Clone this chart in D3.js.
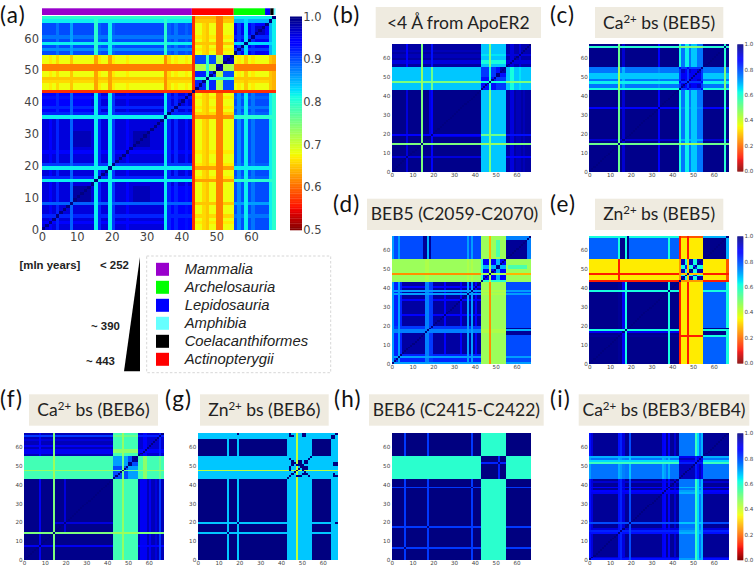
<!DOCTYPE html>
<html><head><meta charset="utf-8">
<script src="https://cdn.jsdelivr.net/npm/d3@7/dist/d3.min.js"></script>
<style>html,body{margin:0;padding:0;background:#fff}svg{display:block}</style>
</head><body><svg id="c" width="756" height="567"></svg>
<script>
// ---- data ----
const residueCount = 67;
const groupEdges = [43, 55];
const tickVals = [0, 10, 20, 30, 40, 50, 60];

const taxonBarEdges = [0, 43, 55, 64, 65.5, 66.5, 67];
const taxonBarColors = ["#9900cc", "#ff0000", "#00ff00", "#0000ff", "#000000", "#66ffff"];
const legendNames = ["Mammalia", "Archelosauria", "Lepidosauria", "Amphibia", "Coelacanthiformes", "Actinopterygii"];
const legendColors = ["#9900cc", "#00ff00", "#0000ff", "#66ffff", "#000000", "#ff0000"];
const ageLabels = ["< 252", "~ 390", "~ 443"];

// jet colour map knots
const jetR = [[0, .35, .66, .89, 1], [0, 0, 1, 1, .5]];
const jetG = [[0, .125, .375, .64, .91, 1], [0, 0, 1, 1, 0, 0]];
const jetB = [[0, .11, .34, .65, 1], [.5, 1, 1, 0, 0]];

// each panel: base [[MM,MF,MA],[FM,-,FA],[AM,AF,AA]], stripes [from,to,vM,vF,vA],
// patches [x0,x1,y0,y1,v], inner classes of residues 43..54, inner class-by-class values
const aBase = [[.96,.68,.9],[.68,.7,.68],[.9,.68,.94]];
const aStripes = [[4,5,.92,.66,.88],[8,9,.89,.65,.86],[15,16,.82,.63,.8],[16,17,.92,.67,.89],[19,20,.82,.63,.82],[20,21,.91,.67,.89],
 [35,36,.82,.62,.8],[36,37,.92,.66,.89],[38,39,.92,.67,.88],[41,42,.93,.67,.89],[2,3,.94,.67,.9],[24,25,.94,.67,.9],
 [43,44,.57,.57,.57],[47,48,.65,.8,.65],[50,52,.61,1,.61],[46,47,.66,1,.66],
 [56,57,.87,.67,.91],[58,59,.82,.65,.83],[60,61,.88,.67,.92],[65,66,.82,.65,.85],[66,67,.8,.64,.82]];
const aPatches = [[9,14,9,14,.985],[26,31,26,31,.98],[9,14,26,31,.975],[0,14,37,43,.94],[55,64,55,64,.95],[61,64,61,64,.97]];
const aClass = [3,0,0,0,1,0,0,2,2,4,4,4];
const aInner = [[.92,.8,.72,.6,.9],[.8,1,.8,.6,.8],[.72,.8,.98,.6,.72],[.6,.6,.6,1,.6],[.9,.8,.72,.6,.97]];

const bBase = [[.99,.68,.97],[.68,.8,.68],[.97,.68,.96]];
const bStripes = [[14,15,.5,.47,.5],[19,20,.88,.52,.86],[7,8,.92,.68,.88],[47,48,.5,.62,.5],[57,59,.92,.62,.92],[61,62,.95,.65,.92]];
const bPatches = [[0,43,57,58,.95],[0,43,60,61,.95],[0,43,63,64,.95],[20,43,18,20,.92]];
const bClass = [0,0,0,0,1,0,0,2,2,3,3,3];
const bInner = [[.86,.65,.82,.82],[.65,1,.65,.65],[.82,.65,1,.86],[.82,.65,.86,.97]];

const cBase = [[.99,.76,.99],[.76,.9,.76],[.99,.76,.99]];
const cStripes = [[14,15,.52,.46,.52],[33,34,.88,.74,.88],[16,17,.93,.7,.93],[65,66,.6,.5,.6],[43,44,.62,.88,.62],[46,48,.64,.88,.64],[49,52,.68,.9,.68]];
const cPatches = [[44,52,33,34,.86]];
const cClass = [1,0,0,0,1,0,0,0,0,0,0,1];
const cInner = [[.94,.82],[.82,.9]];

const dBase = [[.97,.46,.8],[.46,.8,.46],[.8,.46,.98]];
const dStripes = [[0,5,.84,.46,.8],[0,1,.72,.46,.72],[3,4,.72,.46,.72],[16,17,.75,.44,.7],[17,18,.75,.44,.7],[18,20,.82,.46,.8],[25,26,.88,.46,.8],
 [33,34,.88,.46,.8],[36,37,.72,.44,.72],[38,39,.72,.44,.72],[40,41,.88,.46,.8],[47,48,.24,.46,.28],[43,44,.6,.7,.6],[65,67,.8,.46,.75]];
const dPatches = [[15,16,55,67,.98],[18,19,55,67,.98],[50,52,18,19,.55],[50,52,38,39,.55],[56,65,50,52,.56],[50,52,57,63,.56],[55,67,16,17,.98]];
const dClass = [3,0,0,0,1,0,0,2,2,0,0,0];
const dInner = [[.88,.45,.7,.6],[.45,1,.45,.45],[.7,.45,.98,.6],[.6,.45,.6,.9]];

const eBase = [[.99,.34,.78],[.34,.9,.34],[.78,.34,.99]];
const eStripes = [[14,15,.98,.12,.62],[17,18,.62,.34,.62],[38,39,.62,.34,.62],[16,17,.9,.34,.78],[43,44,.12,.25,.12],[47,48,.12,.3,.12],[66,67,.62,.18,.7]];
const ePatches = [[15,17,55,66,.99],[18,19,55,66,.99],[55,67,18,19,.99]];
const eClass = [2,0,0,1,1,0,0,1,1,0,0,0];
const eInner = [[.95,.62,.5],[.62,.85,.5],[.5,.5,.8]];

const fBase = [[.99,.57,.95],[.57,.8,.57],[.95,.57,.93]];
const fStripes = [[14,15,.5,.46,.5],[7,8,.9,.57,.88],[47,48,.47,.52,.47],[57,59,.9,.48,.88],[65,66,.82,.52,.85]];
const fPatches = [[0,43,56,57,.9],[0,43,58,59,.92],[0,43,60,61,.9],[15,43,19,20,.92],[0,43,63,64,.92]];
const fClass = [0,0,0,0,1,0,0,2,2,3,3,3];
const fInner = [[.8,.6,.72,.72],[.6,1,.6,.6],[.72,.6,1,.8],[.72,.6,.8,.98]];

const gBase = [[1,.68,1],[.68,.68,.68],[1,.68,1]];
const gStripes = [[14,15,.68,.68,.68],[19,20,.68,.68,.68],[47,48,.42,.42,.42]];
const gPatches = [[0,67,64,67,.68],[19,20,66,67,1],[45,46,65,66,1],[50,52,65,66,1],[64,66,64,66,1],[65,67,50,52,1],[65,67,44,45,1],
 [44,45,53,54,1],[45,46,52,53,1],[46,47,51,52,1],[47,48,50,51,1],[48,50,51,53,1],[50,52,48,50,1],[47,50,44,45,1],[50,53,45,46,1],[51,52,51,53,1]];
const gClass = [0,0,0,0,0,0,0,0,0,0,0,0];
const gInner = [[.68]];

const hBase = [[1,.6,1],[.6,.97,.6],[1,.6,1]];
const hStripes = [[6,7,.82,.74,.82],[17,18,.82,.74,.82],[38,39,.82,.74,.82]];
const hPatches = [];
const hClass = [0,0,0,0,0,0,0,0,1,0,0,0];
const hInner = [[1,.84],[.84,1]];

const iBase = [[.98,.76,.98],[.76,.94,.76],[.98,.76,.98]];
const iStripes = [[0,1,.86,.72,.86],[1,2,.92,.76,.92],[14,15,.86,.7,.86],[15,16,.84,.72,.84],[16,17,.92,.75,.92],[19,20,.8,.68,.8],
 [35,36,.9,.7,.9],[36,37,.88,.72,.88],[38,39,.88,.7,.88],[41,42,.93,.76,.93],[51,52,.58,.9,.58],[52,53,.66,.9,.66],[54,55,.7,.9,.7]];
const iPatches = [];
const iClass = [0,0,0,0,0,0,0,0,1,0,0,0];
const iInner = [[.95,.85],[.85,1]];

const panelNames = ["a","b","c","d","e","f","g","h","i"];
const boxes = { // plot rectangles in the page
 a:[42,275.5,16,230], b:[391.7,531,44.3,171.3], c:[589.3,728.3,44.3,171.3], d:[391.7,531,236.3,363.3], e:[589.3,728.3,236.3,363.3],
 f:[24,163.3,433.3,560], g:[197.7,337.3,433.3,560], h:[391.7,531,433.3,560], i:[589.3,728.3,433.3,560]};
const panelData = {
 a:[aBase,aStripes,aPatches,aClass,aInner,.5], b:[bBase,bStripes,bPatches,bClass,bInner,0], c:[cBase,cStripes,cPatches,cClass,cInner,0],
 d:[dBase,dStripes,dPatches,dClass,dInner,0], e:[eBase,eStripes,ePatches,eClass,eInner,0], f:[fBase,fStripes,fPatches,fClass,fInner,0],
 g:[gBase,gStripes,gPatches,gClass,gInner,0], h:[hBase,hStripes,hPatches,hClass,hInner,0], i:[iBase,iStripes,iPatches,iClass,iInner,0]};
const colorbars = [
 {x0:290,x1:302,y0:16.5,y1:230,lo:.5,ticks:[.5,.6,.7,.8,.9,1],fs:11.5},
 {x0:737.3,x1:743.3,y0:44.3,y1:171.3,lo:0,ticks:[0,.2,.4,.6,.8,1],fs:5.6},
 {x0:737.3,x1:743.3,y0:236.3,y1:363.3,lo:0,ticks:[0,.2,.4,.6,.8,1],fs:5.6},
 {x0:737.3,x1:743.3,y0:433.3,y1:560,lo:0,ticks:[0,.2,.4,.6,.8,1],fs:5.6}];
const titleBoxes = [
 {x0:375.7,x1:541,y0:7,y1:38,t:["<4 Å from ApoER2"]},
 {x0:595,x1:723.3,y0:7,y1:38,t:["Ca","2+"," bs (BEB5)"]},
 {x0:367,x1:542,y0:198.7,y1:230,t:["BEB5 (C2059-C2070)"]},
 {x0:595,x1:723.3,y0:198.7,y1:230,t:["Zn","2+"," bs (BEB5)"]},
 {x0:29,x1:158,y0:394.3,y1:425.7,t:["Ca","2+"," bs (BEB6)"]},
 {x0:200,x1:328.7,y0:394.3,y1:425.7,t:["Zn","2+"," bs (BEB6)"]},
 {x0:369,x1:543.7,y0:394.3,y1:425.7,t:["BEB6 (C2415-C2422)"]},
 {x0:578.7,x1:749.3,y0:394.3,y1:425.7,t:["Ca","2+"," bs (BEB3/BEB4)"]}];
const panelLetters = [["(a)",0,22.5],["(b)",333,22.5],["(c)",550,22.5],["(d)",333,212],["(e)",550,212],["(f)",0,407],["(g)",165,407],["(h)",334,407],["(i)",550,407]];

// ---- drawing ----
const svg = d3.select("#c");
const sR = d3.scaleLinear().domain(jetR[0]).range(jetR[1]);
const sG = d3.scaleLinear().domain(jetG[0]).range(jetG[1]);
const sB = d3.scaleLinear().domain(jetB[0]).range(jetB[1]);
const jet = t => d3.rgb(sR(t)*255, sG(t)*255, sB(t)*255).formatHex();
const colorOf = lo => { const s = d3.scaleLinear().domain([lo,1]).range([1,0]).clamp(true); return v => jet(s(v)); };

const defs = svg.append("defs");
defs.append("filter").attr("id","soft").attr("x","-2%").attr("y","-2%").attr("width","104%").attr("height","104%")
  .append("feGaussianBlur").attr("stdDeviation",.35);
defs.append("filter").attr("id","softA").attr("x","-2%").attr("y","-2%").attr("width","104%").attr("height","104%")
  .append("feGaussianBlur").attr("stdDeviation",.7);

const groupOf = i => i < groupEdges[0] ? 0 : i < groupEdges[1] ? 1 : 2;
function buildCells([base, stripes, patches, cls, inner]) {
  const cap = d3.range(residueCount).map(() => [9,9,9]);
  stripes.forEach(([a,b,m,f,s]) => d3.range(a,b).forEach(i => {
    cap[i][0]=Math.min(cap[i][0],m); cap[i][1]=Math.min(cap[i][1],f); cap[i][2]=Math.min(cap[i][2],s);
  }));
  const cells = [];
  for (let j=0;j<residueCount;j++) for (let i=0;i<residueCount;i++) {
    const gi=groupOf(i), gj=groupOf(j);
    let v;
    if (i===j) v=1;
    else {
      v = (gi===1&&gj===1) ? inner[cls[i-43]][cls[j-43]] : base[gi][gj];
      let navy=false;
      patches.forEach(([x0,x1,y0,y1,pv]) => {
        if ((i>=x0&&i<x1&&j>=y0&&j<y1)||(j>=x0&&j<x1&&i>=y0&&i<y1)) { v=pv; navy=pv>=.975; }
      });
      if (!navy) v = Math.min(v, cap[i][gj], cap[j][gi]);
    }
    cells.push({i,j,v});
  }
  return cells;
}

panelNames.forEach(name => {
  const [x0,x1,y0,y1] = boxes[name];
  const d = panelData[name];
  const x = d3.scaleLinear().domain([0,residueCount]).range([x0,x1]);
  const y = d3.scaleLinear().domain([0,residueCount]).range([y1,y0]);
  const col = colorOf(d[5]);
  const g = svg.append("g").attr("class","panel-"+name).attr("filter", name==="a"?"url(#softA)":"url(#soft)").attr("shape-rendering","crispEdges");
  g.selectAll("rect").data(buildCells(d)).join("rect")
    .attr("x",c=>x(c.i)).attr("y",c=>y(c.j+1))
    .attr("width",c=>x(c.i+1)-x(c.i)+.3).attr("height",c=>y(c.j)-y(c.j+1)+.3)
    .attr("fill",c=>col(c.v));
  const big = name==="a";
  const fs = big?11.5:5.6;
  const ax = svg.append("g").attr("transform",`translate(0,${y1})`)
    .call(d3.axisBottom(x).tickValues(tickVals).tickSize(0).tickPadding(big?3:1.5));
  const ay = svg.append("g").attr("transform",`translate(${x0},0)`)
    .call(d3.axisLeft(y).tickValues(tickVals).tickSize(0).tickPadding(big?3:1.5));
  [ax,ay].forEach(a => { a.select(".domain").remove();
    a.selectAll("text").attr("font-family","'DejaVu Sans'").attr("font-size",fs).attr("fill","#444"); });
});

// taxon strip above (a)
{
  const x = d3.scaleLinear().domain([0,residueCount]).range([boxes.a[0],boxes.a[1]]);
  svg.append("g").selectAll("rect").data(taxonBarColors).join("rect")
    .attr("x",(c,i)=>x(taxonBarEdges[i])).attr("width",(c,i)=>x(taxonBarEdges[i+1])-x(taxonBarEdges[i]))
    .attr("y",8.3).attr("height",6.7).attr("fill",c=>c);
}

// colour bars
colorbars.forEach(cb => {
  const y = d3.scaleLinear().domain([cb.lo,1]).range([cb.y1,cb.y0]);
  const col = colorOf(cb.lo);
  const g = svg.append("g");
  const steps = d3.range(0,128).map(k => cb.lo+(1-cb.lo)*(k+.5)/128);
  const h = (cb.y1-cb.y0)/128;
  g.selectAll("rect").data(steps).join("rect")
    .attr("x",cb.x0).attr("width",cb.x1-cb.x0).attr("y",v=>y(v)-h/2).attr("height",h+.3).attr("fill",v=>col(v));
  g.selectAll("text").data(cb.ticks).join("text")
    .attr("x",cb.x1+1.2).attr("y",v=>y(v)).attr("dy",".35em")
    .attr("font-family","'DejaVu Sans'").attr("font-size",cb.fs).attr("fill","#444").text(v=>v.toFixed(1));
});

// title boxes
titleBoxes.forEach(b => {
  svg.append("rect").attr("x",b.x0).attr("y",b.y0).attr("width",b.x1-b.x0).attr("height",b.y1-b.y0).attr("fill","#efebe0");
  const t = svg.append("text").attr("x",(b.x0+b.x1)/2).attr("y",(b.y0+b.y1)/2+6).attr("text-anchor","middle")
    .attr("font-family","Lato").attr("font-size",17.5).attr("fill","#222");
  if (b.t.length===1) t.text(b.t[0]);
  else {
    t.append("tspan").text(b.t[0]);
    t.append("tspan").attr("font-size",11.5).attr("dy",-6).text(b.t[1]);
    t.append("tspan").attr("dy",6).text(b.t[2]);
  }
});

// panel letters
svg.append("g").selectAll("text").data(panelLetters).join("text")
  .attr("x",d=>d[1]).attr("y",d=>d[2]).attr("font-family","Lato").attr("font-size",22.5).attr("letter-spacing",1.2).attr("fill","#111").text(d=>d[0]);

// legend
svg.append("rect").attr("x",146.7).attr("y",256).attr("width",184).attr("height",116.7)
  .attr("fill","none").attr("stroke","#ccc").attr("stroke-width",.8).attr("stroke-dasharray","2.5,2");
const legY = d3.scalePoint().domain(legendNames).range([269.3,359.3]);
svg.append("g").selectAll("rect").data(legendNames).join("rect")
  .attr("x",156).attr("y",d=>legY(d)-6.5).attr("width",13).attr("height",13).attr("fill",(d,i)=>legendColors[i]);
svg.append("g").selectAll("text").data(legendNames).join("text")
  .attr("x",184.7).attr("y",d=>legY(d)+5).attr("font-family","'Liberation Sans'").attr("font-style","italic")
  .attr("font-size",14.8).attr("fill","#222").text(d=>d);

// age wedge
svg.append("path").attr("d",d3.line()([[140,257],[140,371.3],[124,371.3]])+"Z").attr("fill","#000");
const ageStyle = s => s.attr("font-family","'Liberation Sans'").attr("font-weight","bold").attr("font-size",11.4).attr("fill","#222");
ageStyle(svg.append("text").attr("x",19.5).attr("y",268.5).text("[mln years]"));
ageStyle(svg.append("text").attr("x",100).attr("y",268.5).text(ageLabels[0]));
ageStyle(svg.append("text").attr("x",91).attr("y",329.5).text(ageLabels[1]));
ageStyle(svg.append("text").attr("x",86).attr("y",364.5).text(ageLabels[2]));
</script></body></html>
